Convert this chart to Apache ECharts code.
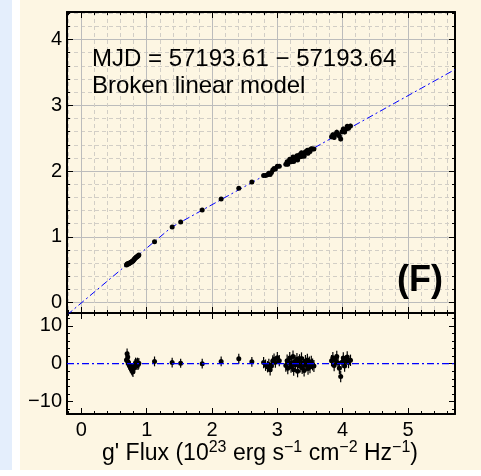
<!DOCTYPE html>
<html>
<head>
<meta charset="utf-8">
<script src="https://cdn.jsdelivr.net/npm/echarts@6/dist/echarts.min.js"></script>
<style>
  html, body { margin: 0; padding: 0; background: #ffffff; }
  #wrap { position: relative; width: 481px; height: 476px; overflow: hidden; }
  #blue { position: absolute; left: 0; top: 0; width: 12px; height: 470px; background: #e4eefc; }
  #cream { position: absolute; left: 20px; top: 0; width: 461px; height: 470px; background: #fdf6e3; }
  #c { position: absolute; left: 0; top: 0; width: 481px; height: 476px; }
</style>
</head>
<body>
<div id="wrap">
  <div id="blue"></div>
  <div id="cream"></div>
  <div id="c"></div>
</div>
<script>
// ---- data ----
const fluxX = [
  0.69,0.70,0.71,0.71,0.72,0.73,0.74,0.75,0.76,0.77,0.78,0.79,0.80,0.81,0.82,0.83,0.84,0.85,0.86,0.87,0.88,
  1.12,1.39,1.52,1.85,2.14,2.41,2.61,
  2.79,2.82,2.85,2.87,2.89,2.91,2.93,2.95,2.97,3.00,3.03,
  3.13,3.15,3.16,3.18,3.19,3.21,3.22,3.24,3.25,3.27,3.28,3.30,3.31,3.32,3.34,3.35,3.37,3.38,3.40,3.41,3.43,3.44,3.46,3.47,3.49,3.50,3.52,3.54,3.56,
  3.83,3.85,3.87,3.89,3.91,3.93,3.95,3.97,3.99,4.01,4.03,4.05,4.07,4.09,4.12
];
const fluxY = [
  0.569,0.586,0.589,0.582,0.590,0.594,0.600,0.607,0.614,0.620,0.626,0.632,0.645,0.658,0.670,0.680,0.687,0.694,0.705,0.711,0.721,
  0.925,1.150,1.224,1.406,1.575,1.737,1.834,
  1.931,1.933,1.942,1.965,1.948,1.979,2.016,2.037,2.032,2.074,2.074,
  2.102,2.141,2.103,2.147,2.178,2.140,2.167,2.215,2.144,2.203,2.189,2.233,2.168,2.227,2.249,2.219,2.277,2.226,2.267,2.227,2.295,2.275,2.318,2.271,2.319,2.297,2.341,2.335,2.337,
  2.520,2.551,2.509,2.556,2.592,2.560,2.535,2.489,2.598,2.639,2.595,2.640,2.680,2.652,2.684
];
const fluxErr = [
  0.008,0.008,0.008,0.008,0.008,0.008,0.008,0.008,0.008,0.008,0.008,0.008,0.008,0.008,0.008,0.008,0.008,0.008,0.008,0.008,0.008,
  0.012,0.015,0.015,0.018,0.020,0.022,0.022,
  0.025,0.025,0.025,0.025,0.025,0.025,0.025,0.025,0.025,0.025,0.025,
  0.030,0.030,0.030,0.030,0.030,0.030,0.030,0.030,0.030,0.030,0.030,0.030,0.030,0.030,0.030,0.030,0.030,0.030,0.030,0.030,0.030,0.030,0.030,0.030,0.030,0.030,0.030,0.030,0.030,
  0.035,0.035,0.035,0.035,0.035,0.035,0.035,0.035,0.035,0.035,0.035,0.035,0.035,0.035,0.035
];
const residual = [
  1.0,2.6,1.8,0.6,0.3,-0.3,-0.6,-0.9,-1.2,-1.5,-1.8,-2.1,-1.3,-0.6,-0.2,0.2,0.0,-0.3,0.2,-0.2,0.1,
  0.6,0.3,0.1,0.0,0.6,1.3,0.5,
  0.3,-0.4,-0.8,-0.2,-1.6,-0.6,0.7,1.2,0.4,1.6,0.8,
  -0.5,0.8,-1.2,0.3,1.5,-0.8,0.2,1.9,-1.6,0.6,-0.3,1.2,-2.0,0.4,0.9,-0.7,1.4,-1.1,0.2,-1.8,0.7,-0.4,1.0,-1.3,0.3,-0.9,0.5,-0.2,-0.6,
  0.8,1.6,-0.5,0.9,1.9,0.2,-1.2,-3.4,0.4,1.5,-0.6,0.7,1.8,0.3,0.9
];
const residualErr = [
  1.4,1.4,1.4,1.4,1.4,1.4,1.4,1.4,1.4,1.4,1.4,1.4,1.4,1.4,1.4,1.4,1.4,1.4,1.4,1.4,1.4,
  1.3,1.3,1.2,1.3,1.3,1.3,1.3,
  1.5,1.5,1.5,1.5,1.5,1.5,1.5,1.5,1.5,1.5,1.5,
  1.6,1.6,1.6,1.6,1.6,1.6,1.6,1.6,1.6,1.6,1.6,1.6,1.6,1.6,1.6,1.6,1.6,1.6,1.6,1.6,1.6,1.6,1.6,1.6,1.6,1.6,1.6,1.6,1.6,
  1.5,1.5,1.5,1.5,1.5,1.5,1.5,1.5,1.5,1.5,1.5,1.5,1.5,1.5,1.5
];
// broken linear model (break points)
const modelX = [-0.22, 1.38, 5.72];
const modelY = [-0.19, 1.145, 3.545];
// zero line of residual panel
const zeroX = [-0.22, 5.72];
const zeroY = [0, 0];
// axis ranges
const xRange = [-0.22, 5.72];
const yRangeTop = [-0.16, 4.42];
const yRangeBottom = [-13.3, 13.4];
const annotationLines = ['MJD = 57193.61 \u2212 57193.64', 'Broken linear model'];
const panelLabel = '(F)';

// ---- build ----
const FONT = '"Liberation Sans", Arial, Helvetica, sans-serif';
const pts = fluxX.map((x, i) => [x, fluxY[i], fluxErr[i]]);
const resPts = fluxX.map((x, i) => [x, residual[i], residualErr[i]]);
const modelPts = modelX.map((x, i) => [x, modelY[i]]);
const zeroPts = zeroX.map((x, i) => [x, zeroY[i]]);

function fmtStep(step) {
  return function (v) {
    const r = Math.round(v / step) * step;
    if (Math.abs(v - r) > 1e-6) return '';
    return String(r).replace('-', '\u2212');
  };
}

const tickStyle = { show: true, inside: true, length: 6, lineStyle: { color: '#000', width: 1 } };
const minorTickStyle = { show: true, splitNumber: 5, length: 3, lineStyle: { color: '#000', width: 1 } };
const labelStyle = { fontFamily: FONT, fontSize: 20, color: '#000' };

function xAx(grid, pos, labels, split) {
  return {
    type: 'value', gridIndex: grid, position: pos, min: xRange[0], max: xRange[1],
    axisLine: { show: true, onZero: false, lineStyle: { color: '#000', width: 2 } },
    axisTick: tickStyle, minorTick: minorTickStyle,
    axisLabel: labels ? Object.assign({ show: true, margin: 6, formatter: fmtStep(1) }, labelStyle) : { show: false },
    splitLine: { show: split, lineStyle: { color: '#bcbcbc', width: 1 } },
    minorSplitLine: { show: split, lineStyle: { color: '#d2cec6', width: 1, type: [4, 3] } }
  };
}
function yAx(grid, pos, labels, split, range, splitNumber, step) {
  return {
    type: 'value', gridIndex: grid, position: pos, min: range[0], max: range[1], splitNumber: splitNumber,
    axisLine: { show: true, onZero: false, lineStyle: { color: '#000', width: 2 } },
    axisTick: tickStyle, minorTick: minorTickStyle,
    axisLabel: labels ? Object.assign({ show: true, margin: 5, formatter: fmtStep(step) }, labelStyle) : { show: false },
    splitLine: { show: split, lineStyle: { color: '#bcbcbc', width: 1 } },
    minorSplitLine: { show: split, lineStyle: { color: '#d2cec6', width: 1, type: [4, 3] } }
  };
}

function errRender(params, api) {
  const x = api.value(0), y = api.value(1), e = api.value(2);
  const p1 = api.coord([x, y - e]);
  const p2 = api.coord([x, y + e]);
  return {
    type: 'line',
    shape: { x1: p1[0], y1: p1[1], x2: p2[0], y2: p2[1] },
    style: { stroke: '#000', lineWidth: 1.2 }
  };
}

const dashDot = [7, 3, 2, 3];

const option = {
  animation: false,
  backgroundColor: 'transparent',
  grid: [
    { left: 67, top: 12, width: 388, height: 301, show: false },
    { left: 67, top: 313, width: 388, height: 101, show: false }
  ],
  xAxis: [
    xAx(0, 'bottom', false, true),
    xAx(0, 'top', false, false),
    xAx(1, 'bottom', true, false),
    xAx(1, 'top', false, false)
  ],
  yAxis: [
    yAx(0, 'left', true, true, yRangeTop, 5, 1),
    yAx(0, 'right', false, false, yRangeTop, 5, 1),
    yAx(1, 'left', true, false, yRangeBottom, 2, 10),
    yAx(1, 'right', false, false, yRangeBottom, 2, 10)
  ],
  series: [
    {
      type: 'custom', xAxisIndex: 0, yAxisIndex: 0, data: pts, renderItem: errRender,
      encode: { x: 0, y: 1 }, clip: true, z: 3
    },
    {
      type: 'scatter', xAxisIndex: 0, yAxisIndex: 0, data: pts, symbolSize: 5,
      itemStyle: { color: '#000', opacity: 1 }, z: 4
    },
    {
      type: 'line', xAxisIndex: 0, yAxisIndex: 0, data: modelPts, symbol: 'none',
      lineStyle: { color: '#0000ff', width: 1, type: dashDot }, clip: true, z: 3
    },
    {
      type: 'custom', xAxisIndex: 2, yAxisIndex: 2, data: resPts, renderItem: errRender,
      encode: { x: 0, y: 1 }, clip: true, z: 3
    },
    {
      type: 'scatter', xAxisIndex: 2, yAxisIndex: 2, data: resPts, symbolSize: 5,
      itemStyle: { color: '#000', opacity: 1 }, z: 4
    },
    {
      type: 'line', xAxisIndex: 2, yAxisIndex: 2, data: zeroPts, symbol: 'none',
      lineStyle: { color: '#0000ff', width: 1.3, type: dashDot }, clip: true, z: 5
    }
  ],
  graphic: [
    {
      type: 'text', x: 92, y: 46, z: 10,
      style: { text: annotationLines.join('\n'), fontFamily: FONT, fontSize: 24, lineHeight: 27, fill: '#000' }
    },
    {
      type: 'text', x: 443, y: 281, z: 10,
      style: { text: panelLabel, fontFamily: FONT, fontSize: 36, fontWeight: 'bold', fill: '#000', align: 'right', verticalAlign: 'middle' }
    },
    {
      type: 'text', x: 260, y: 454, z: 10,
      style: {
        text: "{b|g' Flux (10}{s|23}{b| erg s}{s|\u22121}{b| cm}{s|\u22122}{b| Hz}{s|\u22121}{b|)}",
        align: 'center', verticalAlign: 'middle', fill: '#000',
        rich: {
          b: { fontFamily: FONT, fontSize: 23, lineHeight: 28, fill: '#000' },
          s: { fontFamily: FONT, fontSize: 16, lineHeight: 28, fill: '#000', padding: [0, 0, 12, 0] }
        }
      }
    }
  ]
};

const chart = echarts.init(document.getElementById('c'), null, { renderer: 'canvas' });
chart.setOption(option);
</script>
</body>
</html>
